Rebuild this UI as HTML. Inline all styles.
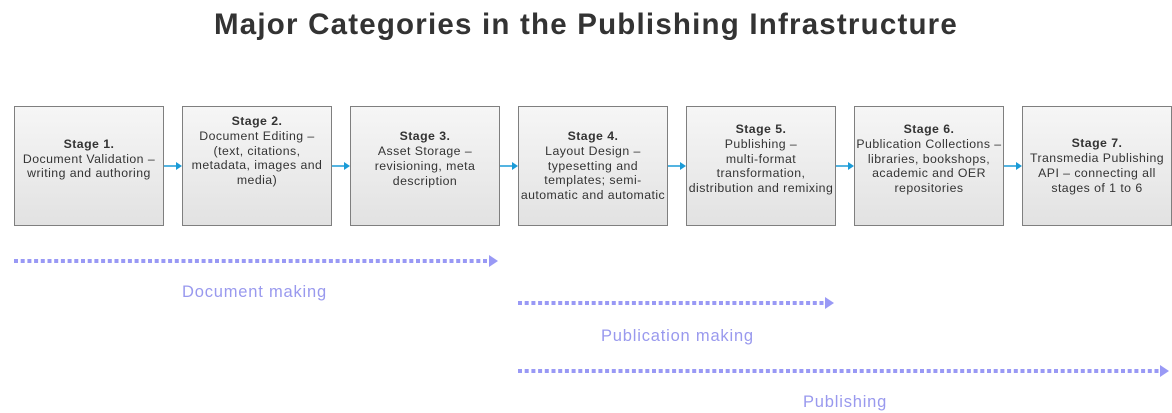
<!DOCTYPE html>
<html><head><meta charset="utf-8"><style>
body{margin:0;width:1172px;height:413px;background:#fff;position:relative;font-family:"Liberation Sans",Arial,sans-serif;overflow:hidden}
h1{position:absolute;top:8px;left:0;width:1172px;text-align:center;margin:0;font-size:29.5px;letter-spacing:1.2px;font-weight:bold;color:#333}
.b{position:absolute;top:106px;width:148px;height:118px;border:1px solid #7f7f7f;background:linear-gradient(#f6f6f6,#e2e2e2);display:flex;align-items:center;justify-content:center;text-align:center;font-size:12.3px;letter-spacing:0.45px;line-height:14.9px;color:#333;box-sizing:content-box;white-space:nowrap}
.b div{margin-top:-14px}
.l{position:absolute;color:#9999ee;font-size:16.5px;letter-spacing:0.8px}
</style></head><body>
<h1>Major Categories in the Publishing Infrastructure</h1>
<div class="b" style="left:14px"><div><b>Stage 1.</b><br>Document Validation –<br>writing and authoring</div></div>
<div class="b" style="left:182px"><div style="margin-top:-30px"><b>Stage 2.</b><br>Document Editing –<br>(text, citations,<br>metadata, images and<br>media)</div></div>
<div class="b" style="left:350px"><div><b>Stage 3.</b><br>Asset Storage –<br>revisioning, meta<br>description</div></div>
<div class="b" style="left:518px"><div style="margin-top:0"><b>Stage 4.</b><br>Layout Design –<br>typesetting and<br>templates; semi-<br>automatic and automatic</div></div>
<div class="b" style="left:686px"><div><b>Stage 5.</b><br>Publishing –<br>multi-format<br>transformation,<br>distribution and remixing</div></div>
<div class="b" style="left:854px"><div><b>Stage 6.</b><br>Publication Collections –<br>libraries, bookshops,<br>academic and OER<br>repositories</div></div>
<div class="b" style="left:1022px"><div style="margin-top:0"><b>Stage 7.</b><br>Transmedia Publishing<br>API – connecting all<br>stages of 1 to 6</div></div>
<svg width="1172" height="413" style="position:absolute;left:0;top:0">
<g stroke="#1a9bd7" stroke-width="1.5" fill="#1a9bd7">
<line x1="164" y1="166" x2="177" y2="166"/><polygon points="176,162 182,166 176,170" stroke="none"/>
<line x1="332" y1="166" x2="345" y2="166"/><polygon points="344,162 350,166 344,170" stroke="none"/>
<line x1="500" y1="166" x2="513" y2="166"/><polygon points="512,162 518,166 512,170" stroke="none"/>
<line x1="668" y1="166" x2="681" y2="166"/><polygon points="680,162 686,166 680,170" stroke="none"/>
<line x1="836" y1="166" x2="849" y2="166"/><polygon points="848,162 854,166 848,170" stroke="none"/>
<line x1="1004" y1="166" x2="1017" y2="166"/><polygon points="1016,162 1022,166 1016,170" stroke="none"/>
</g>
<g stroke="#9999f5" stroke-width="4" stroke-dasharray="4 2.7" fill="#9999f5">
<line x1="14" y1="261" x2="489" y2="261"/><polygon points="489,255 498,261 489,267" stroke="none"/>
<line x1="518" y1="303" x2="825" y2="303"/><polygon points="825,297 834,303 825,309" stroke="none"/>
<line x1="518" y1="371" x2="1160" y2="371"/><polygon points="1160,365 1169,371 1160,377" stroke="none"/>
</g>
</svg>
<div class="l" style="left:182px;top:283px">Document making</div>
<div class="l" style="left:601px;top:327px">Publication making</div>
<div class="l" style="left:803px;top:393px">Publishing</div>
</body></html>
